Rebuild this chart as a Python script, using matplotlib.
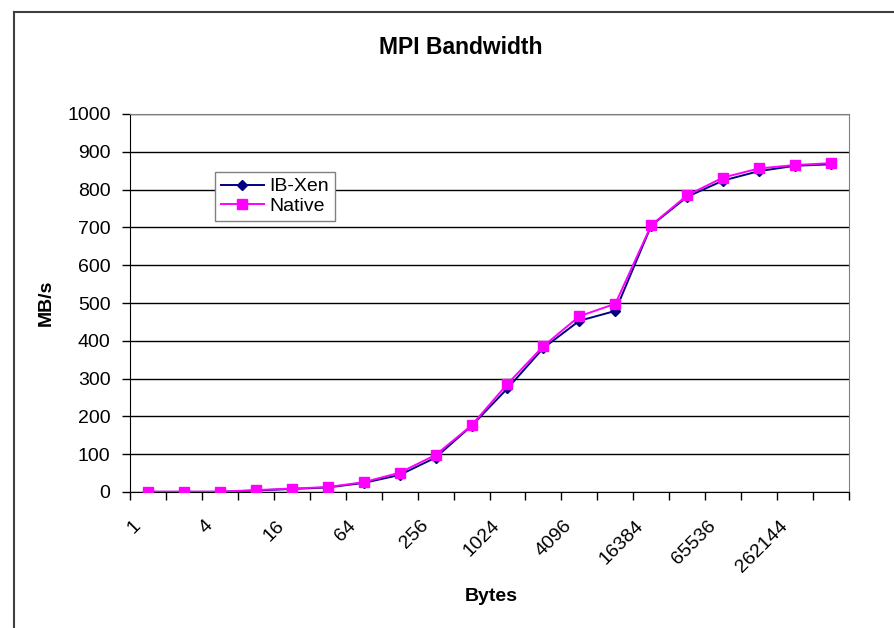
import numpy as np
import matplotlib
matplotlib.use("Agg")
import matplotlib.pyplot as plt
from matplotlib.lines import Line2D
import matplotlib.transforms as mtransforms

plt.rcParams['font.family'] = ['Liberation Sans', 'DejaVu Sans']

# message sizes in bytes (category axis)
sizes = [1, 2, 4, 8, 16, 32, 64, 128, 256, 512, 1024, 2048, 4096, 8192,
         16384, 32768, 65536, 131072, 262144, 524288]
ib_xen = [0.5, 0.5, 0.5, 4, 8, 12, 24, 45, 91, 175, 274, 381, 453, 479,
          705, 781, 824, 849, 863, 867]
native = [0.8, 0.8, 0.8, 5, 9, 13, 26, 51, 98, 176, 286, 386, 465, 498,
          706, 785, 832, 856, 865, 870]

fig = plt.figure(figsize=(8.94, 6.28), dpi=100)
ax = fig.add_axes([130/894, 1-492/628, 719/894, 378/628])

x = np.arange(len(sizes))
ax.plot(x, ib_xen, color='#000080', marker='D', markersize=5.5, lw=1.4,
        label='IB-Xen', zorder=3)
ax.plot(x, native, color='#FF00FF', marker='s', markersize=7, lw=1.4,
        label='Native', zorder=4)

ax.set_xlim(-0.5, len(sizes)-0.5)
ax.set_ylim(0, 1000)
ax.set_yticks(np.arange(0, 1001, 100))
ax.yaxis.grid(True, color='black', lw=1)
ax.set_axisbelow(True)

# tick marks between categories, labels on every other category
ax.set_xticks(np.arange(-0.5, len(sizes), 1), minor=True)
ax.set_xticks(x[::2])
ax.set_xticklabels([str(s) for s in sizes[::2]], rotation=45, ha='right',
                   va='top', rotation_mode='anchor', fontsize=14)
ax.tick_params(axis='x', which='major', length=0, pad=18)
ax.tick_params(axis='x', which='minor', length=6, width=1, direction='out')
ax.tick_params(axis='y', length=6, width=1, direction='out', labelsize=14, pad=8)
off = mtransforms.ScaledTranslation(-16/100, 0, fig.dpi_scale_trans)
for lab in ax.get_xticklabels():
    lab.set_transform(lab.get_transform() + off)

for s in ['left', 'bottom']:
    ax.spines[s].set_color('black')
for s in ['right', 'top']:
    ax.spines[s].set_color('#808080')

ax.set_xlabel('Bytes', fontsize=14, fontweight='bold')
ax.xaxis.set_label_coords(361/719, -96/378)
ax.set_ylabel('MB/s', fontsize=14, fontweight='bold')
ax.yaxis.set_label_coords(-75/719, 0.5)
fig.text(461/894, 1-47/628, 'MPI Bandwidth', ha='center', va='center',
         fontsize=16.5, fontweight='bold')

leg = ax.legend(loc='upper left', bbox_to_anchor=(85/719, 320/378),
                borderaxespad=0, fontsize=14, fancybox=False,
                edgecolor='#808080', framealpha=1, handlelength=2.2,
                handletextpad=0.3, labelspacing=0.1, borderpad=0.3)
leg.get_frame().set_linewidth(1)

# outer chart border
fig.add_artist(Line2D([13.5/894, 13.5/894], [0, 1-12/628], color='#404040', lw=1.5,
                      transform=fig.transFigure))
fig.add_artist(Line2D([13.5/894, 1], [1-12/628, 1-12/628], color='#404040', lw=1.5,
                      transform=fig.transFigure))

fig.savefig('out.png', dpi=100)
